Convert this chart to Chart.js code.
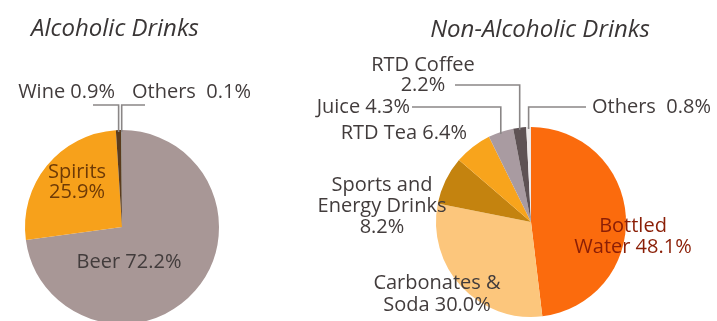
<!DOCTYPE html>
<html>
<head>
<meta charset="utf-8">
<script src="https://cdn.jsdelivr.net/npm/chart.js@4"></script>
<style>
  html, body { margin: 0; padding: 0; background: #ffffff; }
  body { width: 717px; height: 321px; overflow: hidden; position: relative; }
  canvas { position: absolute; top: 0; }
  #alcoholic { left: 0; }
  #non-alcoholic { left: 300px; }
</style>
</head>
<body>
<canvas id="alcoholic" width="300" height="330"></canvas>
<canvas id="non-alcoholic" width="417" height="330"></canvas>
<script>
// ---- données ----
const alcoholicTitle = 'Alcoholic Drinks';
const alcoholicLabels = ['Beer', 'Spirits', 'Wine', 'Others'];
const alcoholicShares = [72.2, 25.9, 0.9, 0.1];

const nonAlcoholicTitle = 'Non-Alcoholic Drinks';
const nonAlcoholicLabels = ['Bottled Water', 'Carbonates & Soda', 'Sports and Energy Drinks', 'RTD Tea', 'Juice', 'RTD Coffee', 'Others'];
const nonAlcoholicShares = [48.1, 30.0, 8.2, 6.4, 4.3, 2.2, 0.8];

// ---- styles ----
const FONT = '"Open Sans", "DejaVu Sans", sans-serif';
const TEXT_COLOR = '#423c3c';
const LINE_COLOR = '#8a8686';

const alcoholicColors = ['#a89796', '#f7a11b', '#5a3b1c', '#8c8c8c'];
const nonAlcoholicColors = ['#fb6b0d', '#fcc67c', '#c4830f', '#f8a41c', '#a99ba1', '#5e5254', '#eeeaea'];

const pct = v => `${v.toFixed(1)}%`;

// placement des étiquettes, en px relatifs au centre du camembert
// leader: { y: hauteur du coude, x: extrémité horizontale }
const alcoholicCallouts = [
    { index: 0, dx: 7, dy: 35, lines: (n, v) => [`${n} ${pct(v)}`] },
    { index: 1, dx: -45, dy: -45, color: '#6e3a06', lines: (n, v) => [n, pct(v)] },
    { index: 2, dx: -7, dy: -135, align: 'right', lines: (n, v) => [`${n} ${pct(v)}`],
      leader: { y: -122, x: -29 } },
    { index: 3, dx: 10, dy: -135, align: 'left', lines: (n, v) => [`${n}  ${pct(v)}`],
      leader: { y: -122, x: 23 } }
];

const nonAlcoholicCallouts = [
    { index: 0, dx: 102, dy: 15, lineHeight: 21, color: '#8a1e06', lines: (n, v) => ['Bottled', `Water ${pct(v)}`] },
    { index: 1, dx: -94, dy: 72, lineHeight: 22, lines: (n, v) => ['Carbonates &', `Soda ${pct(v)}`] },
    { index: 2, dx: -149, dy: -16, lineHeight: 21, lines: (n, v) => ['Sports and', 'Energy Drinks', pct(v)] },
    { index: 3, dx: -64, dy: -89, align: 'right', lines: (n, v) => [`${n} ${pct(v)}`] },
    { index: 4, dx: -121, dy: -115, align: 'right', lines: (n, v) => [`${n} ${pct(v)}`],
      leader: { y: -115, x: -119 } },
    { index: 5, dx: -108, dy: -147, lineHeight: 20, lines: (n, v) => [n, pct(v)],
      leader: { y: -137, x: -76 } },
    { index: 6, dx: 61, dy: -115, align: 'left', lines: (n, v) => [`${n}  ${pct(v)}`],
      leader: { y: -115, x: 55 } }
];

// ======================= PLUGINS =======================

const calloutPlugin = {
    id: 'callouts',
    afterDatasetsDraw(chart, args, opts) {
        const ctx = chart.ctx;
        const meta = chart.getDatasetMeta(0);
        const values = chart.data.datasets[0].data;
        const names = chart.data.labels;
        ctx.save();

        opts.items.forEach(item => {
            const arc = meta.data[item.index];
            const { x, y, startAngle, endAngle, outerRadius } =
                arc.getProps(['x', 'y', 'startAngle', 'endAngle', 'outerRadius'], true);
            const mid = (startAngle + endAngle) / 2;

            if (item.leader) {
                const ax = x + Math.cos(mid) * outerRadius;
                const ay = y + Math.sin(mid) * outerRadius;
                ctx.strokeStyle = LINE_COLOR;
                ctx.lineWidth = 1.6;
                ctx.beginPath();
                ctx.moveTo(ax, ay + 2);
                ctx.lineTo(ax, y + item.leader.y);
                ctx.lineTo(x + item.leader.x, y + item.leader.y);
                ctx.stroke();
            }

            const lines = item.lines(names[item.index], values[item.index]);
            const lh = item.lineHeight || 20;
            ctx.font = `20px ${FONT}`;
            ctx.fillStyle = item.color || TEXT_COLOR;
            ctx.textAlign = item.align || 'center';
            ctx.textBaseline = 'middle';
            const top = y + item.dy - (lines.length - 1) * lh / 2;
            lines.forEach((line, i) => ctx.fillText(line, x + item.dx, top + i * lh));
        });

        // titre
        const { x } = meta.data[0].getProps(['x'], true);
        ctx.font = `italic 24px ${FONT}`;
        ctx.fillStyle = '#3a3636';
        ctx.textAlign = 'center';
        ctx.textBaseline = 'middle';
        ctx.fillText(opts.title, x + opts.titleDx, opts.titleY);
        ctx.restore();
    }
};

// ======================= GRAPHIQUES =======================

function createPie(canvasId, labels, shares, colors, padding, callouts, title, titleDx, titleY) {
    const ctx = document.getElementById(canvasId).getContext('2d');
    return new Chart(ctx, {
        type: 'pie',
        data: {
            labels: labels,
            datasets: [{
                data: shares,
                backgroundColor: colors,
                borderWidth: 0,
                hoverOffset: 0
            }]
        },
        options: {
            responsive: false,
            animation: false,
            devicePixelRatio: 1,
            layout: { padding: padding },
            plugins: {
                legend: { display: false },
                tooltip: { enabled: false },
                callouts: { items: callouts, title: title, titleDx: titleDx, titleY: titleY }
            }
        },
        plugins: [calloutPlugin]
    });
}

createPie('alcoholic', alcoholicLabels, alcoholicShares, alcoholicColors,
    { left: 25, right: 81, top: 130, bottom: 6 },
    alcoholicCallouts, alcoholicTitle, -7, 29);

createPie('non-alcoholic', nonAlcoholicLabels, nonAlcoholicShares, nonAlcoholicColors,
    { left: 136, right: 91, top: 127, bottom: 13 },
    nonAlcoholicCallouts, nonAlcoholicTitle, 9, 30);
</script>
</body>
</html>
